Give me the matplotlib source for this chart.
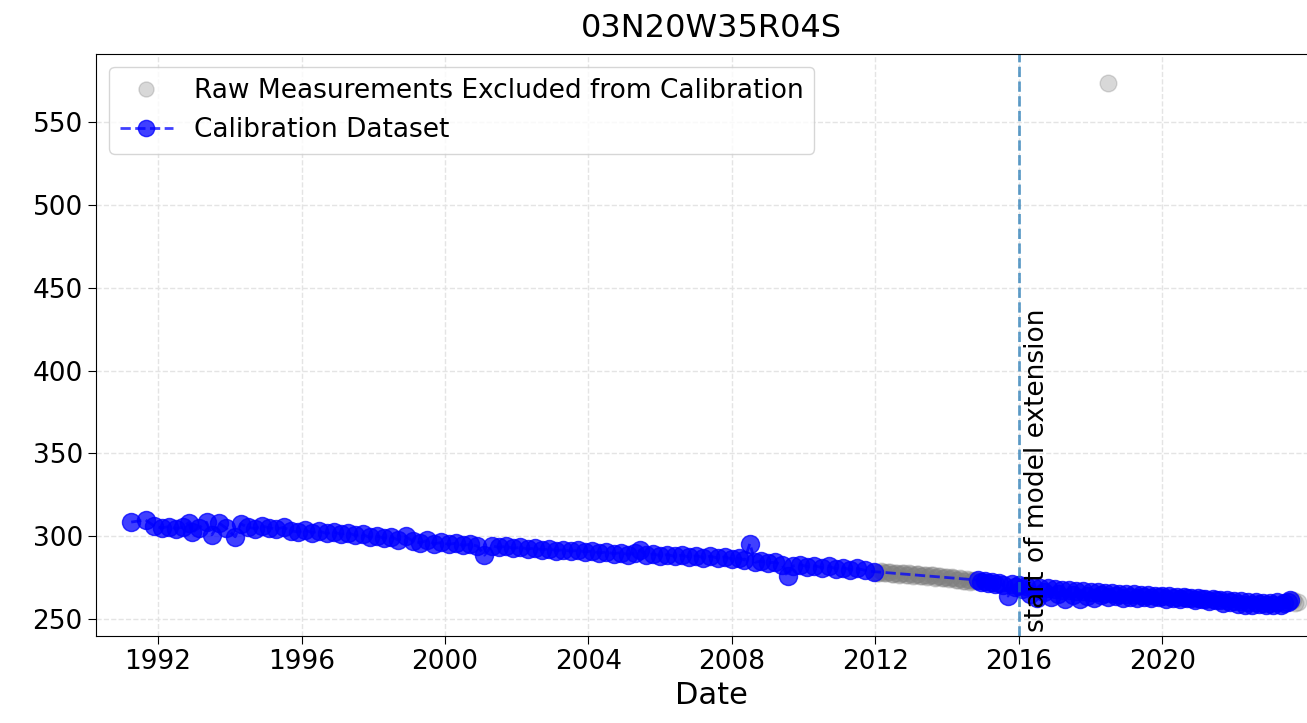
import datetime as dt
import matplotlib
matplotlib.use("Agg")
import matplotlib.pyplot as plt
import matplotlib.dates as mdates

# ---- data (decimal years, water level) ----
cal_year = [
    1991.25, 1991.65, 1991.9, 1992.1, 1992.3, 1992.5, 1992.7, 1992.85, 1992.95, 1993.15,
    1993.35, 1993.5, 1993.7, 1993.9, 1994.15, 1994.3, 1994.5, 1994.7, 1994.9, 1995.1,
    1995.3, 1995.5, 1995.7, 1995.9, 1996.1, 1996.3, 1996.5, 1996.7, 1996.9, 1997.1,
    1997.3, 1997.5, 1997.7, 1997.9, 1998.1, 1998.3, 1998.5, 1998.7, 1998.9, 1999.1,
    1999.3, 1999.5, 1999.7, 1999.9, 2000.1, 2000.3, 2000.5, 2000.7, 2000.9, 2001.1,
    2001.3, 2001.5, 2001.7, 2001.9, 2002.1, 2002.3, 2002.5, 2002.7, 2002.9, 2003.1,
    2003.3, 2003.5, 2003.7, 2003.9, 2004.1, 2004.3, 2004.5, 2004.7, 2004.9, 2005.1,
    2005.3, 2005.45, 2005.6, 2005.8, 2006.0, 2006.2, 2006.4, 2006.6, 2006.8, 2007.0,
    2007.2, 2007.4, 2007.6, 2007.8, 2008.0, 2008.2, 2008.35, 2008.5, 2008.65, 2008.8,
    2009.0, 2009.2, 2009.4, 2009.55, 2009.7, 2009.9, 2010.1, 2010.3, 2010.5, 2010.7,
    2010.9, 2011.1, 2011.3, 2011.5, 2011.7, 2011.95,
    2014.85, 2014.95, 2015.05, 2015.15, 2015.25, 2015.35, 2015.45, 2015.55, 2015.7, 2015.8,
    2015.9, 2016.0, 2016.1, 2016.2, 2016.3, 2016.4, 2016.5, 2016.6, 2016.7, 2016.8,
    2016.9, 2017.0, 2017.1, 2017.2, 2017.3, 2017.4, 2017.5, 2017.6, 2017.7, 2017.8,
    2017.9, 2018.0, 2018.1, 2018.2, 2018.3, 2018.4, 2018.5, 2018.6, 2018.7, 2018.8,
    2018.9, 2019.0, 2019.1, 2019.2, 2019.3, 2019.4, 2019.5, 2019.6, 2019.7, 2019.8,
    2019.9, 2020.0, 2020.1, 2020.2, 2020.3, 2020.4, 2020.5, 2020.6, 2020.7, 2020.8,
    2020.9, 2021.0, 2021.1, 2021.2, 2021.3, 2021.4, 2021.5, 2021.6, 2021.7, 2021.8,
    2021.9, 2022.0, 2022.1, 2022.2, 2022.3, 2022.4, 2022.5, 2022.6, 2022.7, 2022.8,
    2022.9, 2023.0, 2023.1, 2023.2, 2023.3, 2023.4, 2023.5, 2023.55,
]
cal_level = [
    308.5, 309.8, 306.0, 305.0, 305.8, 304.6, 305.5, 308.2, 302.3, 305.2,
    308.4, 300.8, 307.9, 304.8, 299.6, 307.5, 305.4, 304.6, 306.1, 305.0,
    304.3, 305.3, 303.2, 302.6, 303.5, 302.2, 303.0, 301.6, 302.4, 301.2,
    302.0, 300.4, 301.1, 299.2, 300.0, 298.8, 299.6, 297.6, 299.9, 297.0,
    296.0, 297.4, 295.4, 296.2, 295.0, 295.8, 294.4, 295.1, 294.0, 288.5,
    294.2, 293.2, 293.9, 292.6, 293.3, 292.2, 292.8, 291.7, 292.3, 291.3,
    291.8, 290.9, 291.4, 290.5, 291.0, 289.8, 290.5, 289.4, 290.1, 288.9,
    289.8, 291.5, 288.6, 289.3, 288.2, 288.9, 287.8, 288.5, 287.4, 288.2,
    287.1, 287.9, 286.8, 287.5, 286.2, 286.8, 285.6, 295.5, 284.2, 285.0,
    283.8, 284.3, 282.6, 275.8, 282.0, 282.8, 281.6, 282.2, 281.0, 281.7,
    280.4, 281.0, 279.8, 280.5, 279.4, 278.6,
    273.5, 272.4, 273.0, 271.8, 272.6, 271.2, 272.0, 270.6, 263.8, 271.0,
    269.6, 270.4, 268.2, 269.8, 265.0, 269.2, 262.5, 268.6, 266.0, 268.4,
    263.0, 268.0, 265.2, 267.6, 261.8, 267.3, 264.5, 267.0, 262.3, 266.6,
    264.0, 266.3, 262.5, 266.0, 264.2, 265.8, 263.0, 265.6, 263.8, 265.3,
    262.8, 265.0, 263.4, 264.8, 262.6, 264.6, 263.2, 264.3, 262.4, 264.1,
    263.0, 263.9, 262.1, 263.6, 262.7, 263.4, 261.8, 263.2, 262.4, 262.9,
    261.4, 262.6, 261.8, 262.3, 260.9, 262.0, 261.2, 261.7, 259.8, 261.4,
    260.2, 261.0, 259.2, 260.7, 258.6, 260.4, 258.3, 260.1, 259.0, 259.8,
    258.4, 259.6, 258.2, 260.0, 258.6, 259.4, 260.5, 261.2,
]

raw_year = [
    2012.0, 2012.05, 2012.1, 2012.15, 2012.2, 2012.25, 2012.3, 2012.35, 2012.4, 2012.45,
    2012.5, 2012.55, 2012.6, 2012.65, 2012.7, 2012.75, 2012.8, 2012.85, 2012.9, 2012.95,
    2013.0, 2013.05, 2013.1, 2013.15, 2013.2, 2013.25, 2013.3, 2013.35, 2013.4, 2013.45,
    2013.5, 2013.55, 2013.6, 2013.65, 2013.7, 2013.75, 2013.8, 2013.85, 2013.9, 2013.95,
    2014.0, 2014.05, 2014.1, 2014.15, 2014.2, 2014.25, 2014.3, 2014.35, 2014.4, 2014.45,
    2014.5, 2014.55, 2014.6, 2014.65, 2014.7, 2014.75, 2014.8,
    2018.48, 2023.6, 2023.65, 2023.7, 2023.78,
]
raw_level = [
    278.6, 278.0, 277.9, 278.7, 278.4, 277.6, 277.5, 278.3, 278.1, 277.0,
    277.2, 278.0, 277.8, 276.6, 276.9, 277.7, 277.5, 276.4, 276.7, 277.6,
    277.3, 276.2, 276.4, 277.1, 277.0, 275.9, 276.1, 276.8, 276.6, 275.5,
    275.7, 276.5, 276.3, 275.0, 275.4, 276.0, 275.9, 274.6, 274.9, 275.6,
    275.4, 274.0, 274.5, 275.1, 274.9, 273.5, 273.8, 274.6, 274.2, 272.9,
    273.2, 274.0, 273.6, 272.3, 272.7, 273.4, 273.1,
    573.5, 260.8, 261.6, 259.9, 260.4,
]

tick_years = [1992, 1996, 2000, 2004, 2008, 2012, 2016, 2020]
extension_start = 2016.0
well_id = "03N20W35R04S"


def to_date(y):
    year = int(y)
    start = dt.datetime(year, 1, 1)
    end = dt.datetime(year + 1, 1, 1)
    return start + (end - start) * (y - year)


cal_dates = [to_date(y) for y in cal_year]
raw_dates = [to_date(y) for y in raw_year]

fig = plt.figure(figsize=(13.07, 7.23), dpi=100)
ax = fig.add_axes([0.0735, 0.1203, 0.942, 0.805])

ax.plot(raw_dates, raw_level, 'o', color='gray', alpha=0.3, markersize=12,
        label='Raw Measurements Excluded from Calibration')
ax.plot(cal_dates, cal_level, '--o', color='blue', alpha=0.75, markersize=13,
        linewidth=2, label='Calibration Dataset')

ax.axvline(to_date(extension_start), color='C0', alpha=0.7, linestyle='--', linewidth=2)
ax.text(to_date(extension_start + 0.15), 242, 'start of model extension',
        rotation=90, va='bottom', ha='left', fontsize=19)

ax.set_xlim(to_date(1990.27), to_date(2024.6))
ax.set_ylim(239.7, 591.1)
ax.set_yticks([250, 300, 350, 400, 450, 500, 550])
ax.set_xticks([dt.datetime(y, 1, 1) for y in tick_years])
ax.xaxis.set_major_formatter(mdates.DateFormatter('%Y'))

ax.grid(True, color='#e4e4e4', linestyle='--', linewidth=1)
ax.tick_params(labelsize=19, length=6)
ax.set_xlabel('Date', fontsize=22)
ax.set_title(well_id, fontsize=23, pad=12)
ax.legend(loc='upper left', fontsize=19, markerscale=0.9)

plt.savefig('out.png', dpi=100)
